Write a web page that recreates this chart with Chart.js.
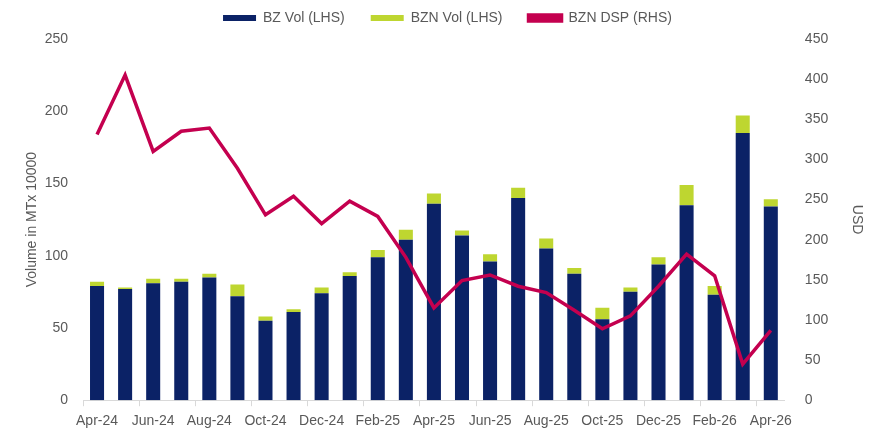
<!DOCTYPE html>
<html>
<head>
<meta charset="utf-8">
<script src="https://cdn.jsdelivr.net/npm/chart.js@4"></script>
<style>
  body { margin: 0; background: #fff; }
  #wrap { width: 881px; height: 433px; }
</style>
</head>
<body>
<div id="wrap"><canvas id="myChart"></canvas></div>
<script>
var months = ['Apr-24', 'May-24', 'Jun-24', 'Jul-24', 'Aug-24', 'Sep-24', 'Oct-24', 'Nov-24', 'Dec-24',
  'Jan-25', 'Feb-25', 'Mar-25', 'Apr-25', 'May-25', 'Jun-25', 'Jul-25', 'Aug-25', 'Sep-25', 'Oct-25',
  'Nov-25', 'Dec-25', 'Jan-26', 'Feb-26', 'Mar-26', 'Apr-26'];
var bzVol = [79, 77, 81, 82, 85, 72, 55, 61, 74, 86, 99, 111, 136, 114, 96, 140, 105, 87.5, 56, 75, 94, 135, 73, 185, 134];
var bznVol = [3, 1, 3, 2, 2.5, 8, 3, 2, 4, 2.5, 5, 7, 7, 3.5, 5, 7, 7, 4, 8, 3, 5, 14, 6, 12, 5];
var bznDsp = [331, 405, 310, 335, 339, 289, 231, 254, 220, 248, 229, 178, 115, 149, 156, 142, 134, 112, 89, 105, 142, 182, 155, 45, 87];
var leftTicks = [0, 50, 100, 150, 200, 250];
var rightTicks = [0, 50, 100, 150, 200, 250, 300, 350, 400, 450];

var grey = '#595959';
var font = { family: 'Liberation Sans', size: 14 };

// a bit more room under the legend
var legendGap = {
  id: 'legendGap',
  beforeInit: function (chart) {
    var fit = chart.legend.fit;
    chart.legend.fit = function () {
      fit.bind(chart.legend)();
      this.height += 4;
    };
  }
};

var ctx = document.getElementById('myChart').getContext('2d');

var myChart = new Chart(ctx, {
  type: 'bar',
  plugins: [legendGap],
  data: {
    labels: months,
    datasets: [{
      label: 'BZ Vol (LHS)',
      data: bzVol,
      backgroundColor: '#0b2266',
      yAxisID: 'y',
      stack: 'vol',
      order: 1
    },
    {
      label: 'BZN Vol (LHS)',
      data: bznVol,
      backgroundColor: '#bed630',
      yAxisID: 'y',
      stack: 'vol',
      order: 1
    },
    {
      type: 'line',
      label: 'BZN DSP (RHS)',
      data: bznDsp,
      borderColor: '#c4004f',
      backgroundColor: '#c4004f',
      borderWidth: 3.5,
      pointRadius: 0,
      tension: 0,
      yAxisID: 'y1',
      order: 0
    }]
  },
  options: {
    responsive: true,
    maintainAspectRatio: false,
    animation: false,
    layout: { padding: { left: 22, right: 8, top: -15, bottom: -4 } },
    datasets: {
      bar: { categoryPercentage: 1, barPercentage: 0.5 }
    },
    plugins: {
      legend: {
        position: 'top',
        labels: {
          color: grey,
          font: font,
          boxWidth: 33,
          boxHeight: 6,
          padding: 26,
          sort: function (a, b) { return a.datasetIndex - b.datasetIndex; }
        }
      },
      tooltip: { enabled: false }
    },
    scales: {
      x: {
        stacked: true,
        grid: {
          offset: true,
          drawOnChartArea: false,
          tickLength: 6,
          color: function (c) { return c.index % 2 === 0 ? '#d9d9d9' : 'rgba(0,0,0,0)'; }
        },
        border: { color: '#d9d9d9', width: 1 },
        ticks: {
          color: grey,
          font: font,
          autoSkip: false,
          maxRotation: 0,
          padding: 7,
          callback: function (v, i) { return i % 2 === 0 ? months[i] : ''; }
        }
      },
      y: {
        stacked: true,
        position: 'left',
        min: 0,
        max: 250,
        afterBuildTicks: function (s) { s.ticks = leftTicks.map(function (v) { return { value: v }; }); },
        afterFit: function (s) { s.width = 61; },
        grid: { display: false },
        border: { display: false },
        ticks: { color: grey, font: font, padding: 7 },
        title: { display: true, text: 'Volume in MTx 10000', color: grey, font: font, padding: 2 }
      },
      y1: {
        position: 'right',
        min: 0,
        max: 450,
        afterBuildTicks: function (s) { s.ticks = rightTicks.map(function (v) { return { value: v }; }); },
        grid: { display: false },
        border: { display: false },
        ticks: { color: grey, font: font, padding: 12 },
        title: { display: true, text: 'USD', color: grey, font: font, padding: 8 }
      }
    }
  }
});
</script>
</body>
</html>
